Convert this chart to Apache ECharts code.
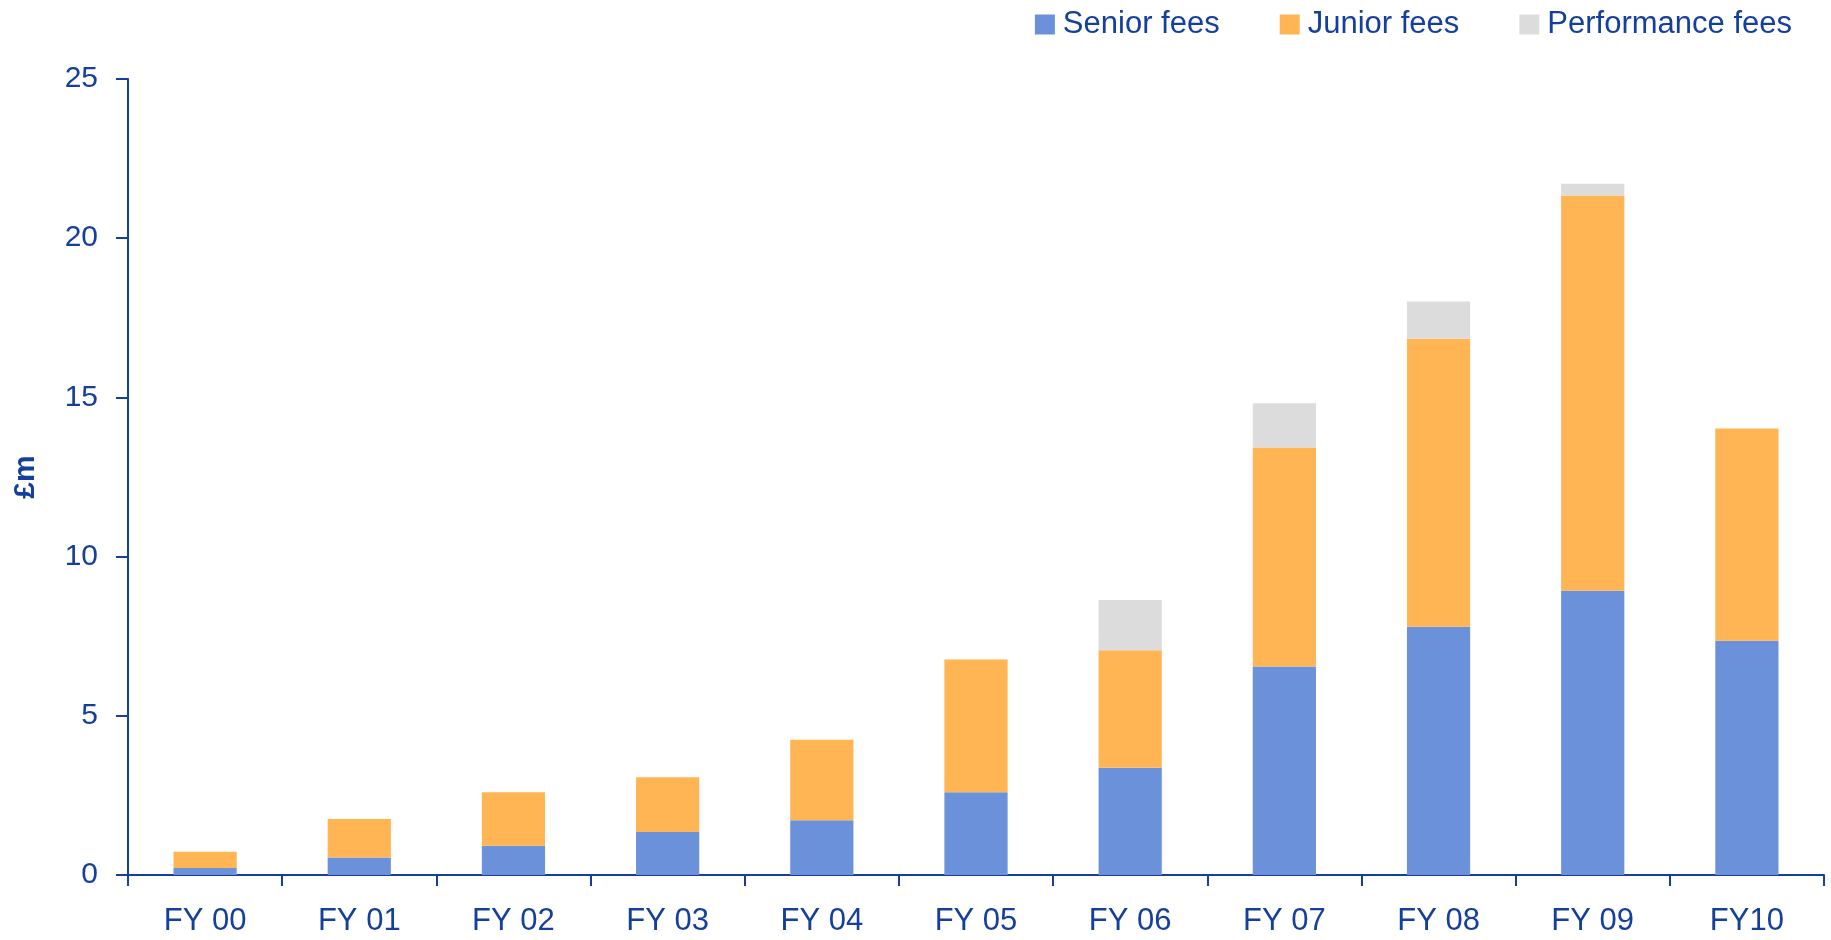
<!DOCTYPE html>
<html>
<head>
<meta charset="utf-8">
<script src="https://cdn.jsdelivr.net/npm/echarts@6/dist/echarts.min.js"></script>
<style>
  html, body { margin: 0; padding: 0; background: #fff; }
  #fees-chart { width: 1831px; height: 940px; }
</style>
</head>
<body>
<div id="fees-chart"></div>
<script>
// Chart data (£m)
var years = ['FY 00', 'FY 01', 'FY 02', 'FY 03', 'FY 04', 'FY 05', 'FY 06', 'FY 07', 'FY 08', 'FY 09', 'FY10'];
var seniorFees = [0.22, 0.55, 0.92, 1.35, 1.72, 2.6, 3.37, 6.55, 7.8, 8.93, 7.36];
var juniorFees = [0.51, 1.21, 1.68, 1.72, 2.53, 4.17, 3.69, 6.88, 9.04, 12.41, 6.66];
var performanceFees = [0, 0, 0, 0, 0, 0, 1.58, 1.39, 1.17, 0.37, 0];

var textBlue = '#153f9e';
var fontName = '"Liberation Sans", Arial, sans-serif';

var myChart = echarts.init(document.getElementById('fees-chart'));

// build one stacked bar series
function feeSeries(name, values, colour) {
    return {
        name: name,
        type: 'bar',
        stack: 'fees',
        barWidth: '41%',
        data: values,
        itemStyle: { color: colour },
        emphasis: { disabled: true }
    };
}

var option = {
    animation: false,
    textStyle: { fontFamily: fontName },
    legend: {
        top: 4,
        right: 34,
        itemWidth: 20,
        itemHeight: 20,
        itemGap: 60,
        icon: 'rect',
        textStyle: {
            color: textBlue,
            fontSize: 31,
            fontFamily: fontName,
            padding: [0, 0, 0, 3]
        },
        data: ['Senior fees', 'Junior fees', 'Performance fees']
    },
    grid: {
        left: 128,
        right: 7,
        top: 79,
        bottom: 65
    },
    xAxis: {
        type: 'category',
        data: years,
        axisLine: { lineStyle: { color: textBlue, width: 2 } },
        axisTick: { show: true, length: 11, lineStyle: { color: textBlue, width: 2 } },
        axisLabel: {
            color: textBlue,
            fontSize: 31,
            fontFamily: fontName,
            margin: 31
        }
    },
    yAxis: {
        type: 'value',
        min: 0,
        max: 25,
        interval: 5,
        name: '£m',
        nameLocation: 'middle',
        nameGap: 87,
        nameTextStyle: {
            color: textBlue,
            fontSize: 30,
            fontWeight: 'bold',
            fontFamily: fontName
        },
        splitLine: { show: false },
        axisLine: { show: true, lineStyle: { color: textBlue, width: 2 } },
        axisTick: { show: true, length: 12, lineStyle: { color: textBlue, width: 2 } },
        axisLabel: {
            color: textBlue,
            fontSize: 30,
            fontFamily: fontName,
            margin: 30
        }
    },
    series: [
        feeSeries('Senior fees', seniorFees, '#6b91db'),
        feeSeries('Junior fees', juniorFees, '#ffb554'),
        feeSeries('Performance fees', performanceFees, '#dcdcdc')
    ]
};

myChart.setOption(option);

window.onresize = function() {
    myChart.resize();
};
</script>
</body>
</html>
